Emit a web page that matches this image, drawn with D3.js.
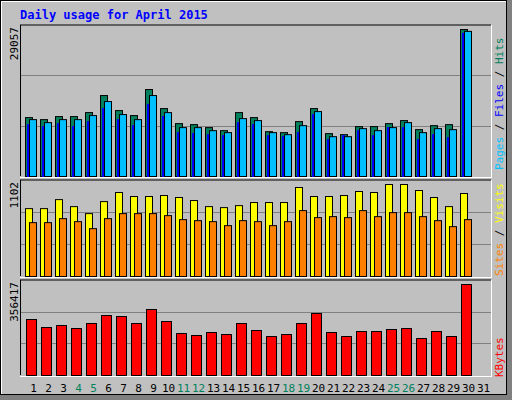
<!DOCTYPE html>
<html><head><meta charset="utf-8">
<script src="https://cdn.jsdelivr.net/npm/d3@7"></script>
<style>body{margin:0;background:#fff}svg{display:block}text{font-family:"DejaVu Sans Mono",monospace}</style>
</head><body>
<svg id="canvas" width="512" height="400"></svg>
<script>
// Daily data, April 2015 (day 31 has no data)
let days = d3.range(1, 32)
let weekends = [4, 5, 11, 12, 18, 19, 25, 26]
let hits = [11640, 11240, 11840, 11840, 12630, 16000, 13030, 12040, 17190, 13420, 10450, 10250, 9660, 9060, 12630, 11640, 8860, 8670, 10850, 13420, 8470, 8270, 9860, 9860, 10450, 11050, 9260, 10050, 10250, 29057, 0]
let files = [11240, 10650, 11240, 11240, 12040, 14810, 12240, 11240, 16000, 12630, 9660, 9660, 9060, 8670, 11440, 11050, 8670, 8270, 10050, 12830, 7870, 7870, 9460, 9060, 9660, 10650, 8670, 9460, 9260, 28690, 0]
let pages = [10250, 9860, 10450, 9860, 10850, 13420, 11240, 10050, 14220, 11840, 8670, 8470, 8270, 8070, 10650, 10250, 8070, 7870, 8670, 12230, 7280, 8070, 9060, 8070, 9660, 9660, 7280, 8270, 7670, 28300, 0]
let visits = [813, 813, 921, 837, 753, 897, 1006, 958, 958, 970, 946, 910, 837, 825, 849, 886, 886, 886, 1066, 958, 958, 970, 1018, 1006, 1102, 1102, 1030, 946, 837, 994, 0]
let sites = [645, 645, 693, 657, 573, 693, 753, 753, 753, 729, 681, 669, 657, 609, 669, 657, 609, 657, 789, 705, 717, 705, 789, 717, 765, 765, 717, 669, 597, 681, 0]
let kbytes = [219340, 188000, 195840, 184090, 203670, 235010, 231090, 203670, 258510, 211510, 164510, 156670, 168420, 160590, 203670, 176260, 152760, 160590, 203670, 242840, 168420, 152760, 172340, 172340, 180170, 184090, 144920, 172340, 152760, 356417, 0]

let svg = d3.select('#canvas')

// frame
svg.append('rect').attr('width', 512).attr('height', 400).attr('fill', '#808080')
svg.append('rect').attr('width', 507).attr('height', 395).attr('fill', '#000')
svg.append('rect').attr('x', 1).attr('y', 1).attr('width', 505).attr('height', 393).attr('fill', '#fff')
svg.append('rect').attr('x', 2).attr('y', 2).attr('width', 504).attr('height', 392).attr('fill', '#c0c0c0')

svg.append('text').attr('x', 20).attr('y', 19).attr('fill', '#0000ff')
    .style('font-size', '12px').style('font-weight', 'bold').text('Daily usage for April 2015')

let x = d3.scaleBand().domain(days).range([25, 490]).paddingInner(0).paddingOuter(0)

// draw one panel: top/bottom pixel bounds, max value, label, series
let panel = (top, bottom, maxVal, label, series) => {
    svg.append('line').attr('x1', 20).attr('x2', 491).attr('y1', top).attr('y2', top).attr('stroke', '#000')
    svg.append('line').attr('x1', 20.5).attr('x2', 20.5).attr('y1', top).attr('y2', bottom).attr('stroke', '#000')
    svg.append('line').attr('x1', 491.5).attr('x2', 491.5).attr('y1', top).attr('y2', bottom + 1).attr('stroke', '#fff')
    svg.append('line').attr('x1', 20).attr('x2', 492).attr('y1', bottom + 1.5).attr('y2', bottom + 1.5).attr('stroke', '#fff')
    let base = bottom
    let y = d3.scaleLinear().domain([0, maxVal]).range([base, top + 4])
    let full = d3.scaleLinear().domain([0, 3]).range([base, top])
    ;[1, 2].forEach(k => {
        svg.append('line').attr('x1', 21).attr('x2', 491).attr('y1', Math.round(full(k)) + 0.5)
            .attr('y2', Math.round(full(k)) + 0.5).attr('stroke', '#808080')
    })
    svg.append('text').attr('transform', `translate(18,${top + 2}) rotate(-90)`)
        .attr('text-anchor', 'end').style('font-size', '11px').attr('fill', '#000').text(label)
    series.forEach(s => {
        svg.append('g').selectAll('rect').data(s.data).enter().append('rect')
            .attr('x', (d, i) => x(days[i]) + s.dx + 0.5)
            .attr('y', d => y(d) + 0.5)
            .attr('width', s.w)
            .attr('height', d => d > 0 ? base - y(d) : 0)
            .attr('fill', s.color)
            .attr('stroke', d => d > 0 ? (s.stroke || '#000') : 'none')
    })
}

panel(25, 176, 29057, '29057', [
    {data: hits, dx: 0, w: 7, color: '#00805c'},
    {data: pages, dx: 2, w: 2, color: '#0000ff', stroke: '#0000ff'},
    {data: files, dx: 4, w: 7, color: '#00c0ff'}
])
panel(180, 276, 1102, '1102', [
    {data: visits, dx: 0, w: 7, color: '#ffff00'},
    {data: sites, dx: 4, w: 7, color: '#ff8000'}
])
panel(280, 375, 356417, '356417', [
    {data: kbytes, dx: 1, w: 10, color: '#ff0000'}
])

// right-side legends
let legend = (yBottom, parts) => {
    let t = svg.append('text').attr('transform', `translate(503,${yBottom}) rotate(-90)`)
        .style('font-size', '11px')
    parts.forEach(p => t.append('tspan').attr('fill', p[1]).text(p[0]))
}
legend(170, [['Pages', '#00c0ff'], [' / ', '#000'], ['Files', '#0000ff'], [' / ', '#000'], ['Hits', '#00805c']])
legend(276, [['Sites', '#ff8000'], [' / ', '#000'], ['Visits', '#ffff00']])
legend(377, [['KBytes', '#ff0000']])

svg.append('g').selectAll('text').data(days).enter().append('text')
    .attr('x', d => x(d) + 8.5).attr('y', 392).attr('text-anchor', 'middle')
    .style('font-size', '11px')
    .attr('fill', d => weekends.includes(d) ? '#00805c' : '#000')
    .text(d => d)
</script>
</body></html>
